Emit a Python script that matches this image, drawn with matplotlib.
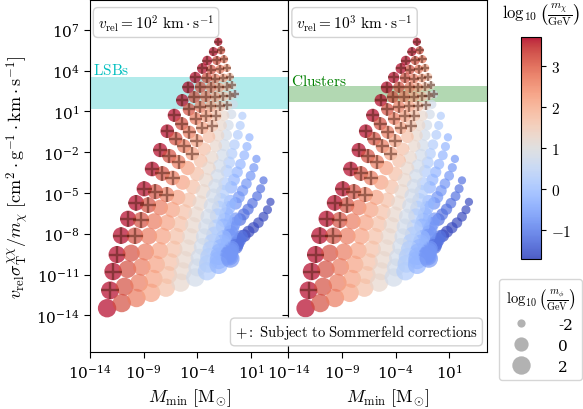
import numpy as np
import matplotlib.pyplot as plt
from matplotlib.lines import Line2D

plt.rcParams['mathtext.fontset'] = 'cm'
plt.rcParams['font.family'] = 'serif'
plt.rcParams['font.serif'] = ['DejaVu Serif']

# scan grid (log10 of masses in GeV)
log_mphi = [-2.0, -1.78, -1.56, -1.33, -1.11, -0.89, -0.67, -0.44, -0.22, 0.0,
            0.22, 0.44, 0.67, 0.89, 1.11, 1.33, 1.56, 1.78, 2.0]
log_mchi = [3.7, 3.21, 2.72, 2.23, 1.74, 1.25, 0.75, 0.26, -0.23, -0.72, -1.21, -1.7]

# log10 M_min [Msun], one row per mediator mass
log_Mmin = [
    [-2.04, -1.78, -1.51, -1.25, -0.98, -0.72, -0.45, 0.20, 0.86, 1.51, 2.17, 2.82],
    [-2.50, -2.19, -1.88, -1.57, -1.26, -0.95, -0.64, 0.00, 0.63, 1.27, 1.90, 2.54],
    [-3.07, -2.70, -2.32, -1.95, -1.57, -1.20, -0.82, -0.22, 0.38, 0.97, 1.57, 2.17],
    [-3.53, -3.13, -2.72, -2.32, -1.91, -1.51, -1.10, -0.54, 0.02, 0.58, 1.14, 1.70],
    [-4.19, -3.71, -3.22, -2.74, -2.26, -1.77, -1.29, -0.79, -0.28, 0.22, 0.73, 1.23],
    [-4.84, -4.28, -3.72, -3.16, -2.60, -2.04, -1.48, -1.03, -0.58, -0.13, 0.32, 0.77],
    [-5.40, -4.78, -4.15, -3.53, -2.91, -2.28, -1.66, -1.25, -0.84, -0.43, -0.02, 0.39],
    [-6.15, -5.45, -4.75, -4.05, -3.34, -2.64, -1.94, -1.43, -0.92, -0.40, 0.11],
    [-6.80, -6.02, -5.24, -4.47, -3.69, -2.91, -2.13, -1.62, -1.10, -0.59, -0.07],
    [-7.46, -6.60, -5.75, -4.89, -4.03, -3.18, -2.32, -1.81, -1.29, -0.78, -0.26],
    [-8.21, -7.26, -6.31, -5.36, -4.40, -3.45, -2.50, -1.97, -1.43, -0.90, -0.36],
    [-8.95, -7.91, -6.86, -5.82, -4.78, -3.73, -2.69, -2.13, -1.57, -1.01, -0.45],
    [-9.70, -8.58, -7.46, -6.34, -5.21, -4.09, -2.97, -2.25, -1.54, -0.82],
    [-10.45, -9.24, -8.02, -6.81, -5.59, -4.38, -3.16, -2.41, -1.67, -0.92],
    [-11.10, -9.81, -8.52, -7.23, -5.93, -4.64, -3.35, -2.57, -1.79, -1.01],
    [-11.48, -10.16, -8.83, -7.51, -6.18, -4.86, -3.53, -2.72, -1.91, -1.10],
    [-11.85, -10.51, -9.17, -7.83, -6.49, -5.15, -3.81, -2.91, -2.00, -1.10],
    [-12.13, -10.78, -9.42, -8.07, -6.71, -5.36, -4.00, -3.00, -2.01, -1.01],
    [-12.41, -11.04, -9.67, -8.30, -6.93, -5.56, -4.19, -3.10, -2.01, -0.92],
]

# log10 v_rel sigma_T / m_chi, same layout
log_sigv = [
    [6.12, 5.48, 4.83, 4.19, 3.54, 2.90, 2.25, 0.67, -0.91, -2.50, -4.08, -5.66],
    [5.39, 4.74, 4.10, 3.45, 2.80, 2.16, 1.51, -0.04, -1.59, -3.14, -4.69, -6.24],
    [4.73, 4.07, 3.41, 2.76, 2.10, 1.44, 0.78, -0.73, -2.23, -3.74, -5.24, -6.75],
    [4.15, 3.46, 2.76, 2.07, 1.37, 0.68, -0.02, -1.45, -2.89, -4.32, -5.76, -7.19],
    [3.49, 2.78, 2.08, 1.37, 0.66, -0.04, -0.75, -2.11, -3.47, -4.84, -6.20, -7.56],
    [2.76, 2.05, 1.34, 0.64, -0.07, -0.78, -1.49, -2.76, -4.03, -5.31, -6.58, -7.85],
    [1.81, 1.14, 0.47, -0.21, -0.88, -1.55, -2.22, -3.40, -4.59, -5.77, -6.96, -8.14],
    [0.71, 0.09, -0.53, -1.16, -1.78, -2.40, -3.02, -4.32, -5.62, -6.92, -8.22],
    [-0.46, -1.01, -1.56, -2.11, -2.65, -3.20, -3.75, -4.92, -6.10, -7.27, -8.44],
    [-1.85, -2.29, -2.73, -3.17, -3.61, -4.05, -4.49, -5.53, -6.57, -7.61, -8.65],
    [-3.24, -3.57, -3.90, -4.23, -4.56, -4.89, -5.22, -6.12, -7.01, -7.91, -8.80],
    [-4.70, -4.91, -5.12, -5.33, -5.53, -5.74, -5.95, -6.70, -7.45, -8.20, -8.95],
    [-5.73, -5.90, -6.07, -6.24, -6.41, -6.58, -6.75, -7.53, -8.31, -9.09],
    [-6.90, -7.00, -7.09, -7.19, -7.29, -7.38, -7.48, -8.07, -8.65, -9.24],
    [-8.14, -8.15, -8.17, -8.18, -8.19, -8.21, -8.22, -8.61, -9.00, -9.39],
    [-9.53, -9.43, -9.34, -9.24, -9.14, -9.05, -8.95, -9.14, -9.34, -9.53],
    [-10.78, -10.61, -10.44, -10.26, -10.09, -9.92, -9.75, -9.70, -9.66, -9.61],
    [-12.17, -11.89, -11.61, -11.32, -11.04, -10.76, -10.48, -10.21, -9.95, -9.68],
    [-13.48, -13.10, -12.73, -12.35, -11.97, -11.60, -11.22, -10.76, -10.29, -9.83],
]

# how many of the heaviest DM masses in each row carry a "+" (Sommerfeld)
n_sommerfeld = [7, 6, 6, 5, 5, 5, 4, 4, 4, 3, 3, 3, 2, 2, 2, 1, 1, 1, 0]

lsb_band = (15, 3500)
cluster_band = (46, 680)
v_rel_exp = [2, 3]

# flatten the table
xs, ys, cs, ms, som = [], [], [], [], []
for i, mphi in enumerate(log_mphi):
    for j in range(len(log_Mmin[i])):
        xs.append(10 ** log_Mmin[i][j])
        ys.append(10 ** log_sigv[i][j])
        cs.append(log_mchi[j])
        ms.append(mphi)
        som.append(j < n_sommerfeld[i])
xs, ys, cs, ms, som = map(np.array, (xs, ys, cs, ms, som))
sizes = 35 * (ms + 3)

fig, axes = plt.subplots(1, 2, figsize=(5.83, 4.10), dpi=100, sharey=True)
fig.subplots_adjust(left=0.1544, right=0.8353, top=0.998, bottom=0.139, wspace=0)

cmap = plt.get_cmap('coolwarm')
norm = plt.Normalize(-1.7, 3.7)

for ax, v in zip(axes, v_rel_exp):
    ax.scatter(xs, ys, c=cs, cmap=cmap, norm=norm, s=sizes, alpha=0.7, lw=0, zorder=3)
    ax.scatter(xs[som], ys[som], marker='+', c='#4a1a0c', alpha=0.5, s=sizes[som] * 0.95,
               linewidths=1.7, zorder=4)
    ax.set_xscale('log')
    ax.set_yscale('log')
    ax.set_xlim(1e-14, 10**4.5)
    ax.set_ylim(10**-16.7, 10**9.2)
    ax.set_xticks([1e-14, 1e-9, 1e-4, 1e1])
    ax.set_yticks([10.0**k for k in range(-14, 8, 3)])
    ax.minorticks_off()
    ax.tick_params(labelsize=11, length=4)
    ax.set_xlabel(r'$M_{\rm min}\ [{\rm M}_{\odot}]$', fontsize=13)
    ax.text(0.04, 0.965, r'$v_{\rm rel} = 10^%d\ {\rm km}\cdot{\rm s}^{-1}$' % v,
            transform=ax.transAxes, fontsize=11, va='top', ha='left', zorder=6,
            bbox=dict(boxstyle='round,pad=0.3', fc='white', ec='lightgrey'))

axes[0].set_ylabel(r'$v_{\rm rel}\sigma_{\rm T}^{\chi\chi}/m_\chi\ [{\rm cm}^2\cdot{\rm g}^{-1}\cdot{\rm km}\cdot{\rm s}^{-1}]$',
                   fontsize=13)

axes[0].axhspan(*lsb_band, color='c', alpha=0.3, lw=0, zorder=2)
axes[0].text(10**-13.75, 10**3.72, r'$\rm LSBs$', color='c', fontsize=11)
axes[1].axhspan(*cluster_band, color='g', alpha=0.3, lw=0, zorder=2)
axes[1].text(10**-13.8, 10**2.92, r'$\rm Clusters$', color='g', fontsize=11)

axes[1].text(0.955, 0.03, r'$+:\ \rm Subject\ to\ Sommerfeld\ corrections$',
             transform=axes[1].transAxes, fontsize=10.5, ha='right', va='bottom', zorder=10,
             bbox=dict(boxstyle='round,pad=0.3', fc='white', ec='lightgrey'))

cax = fig.add_axes([521 / 583, 1 - 260 / 410, 20 / 583, 222 / 410])
sm = plt.cm.ScalarMappable(norm=norm, cmap=cmap)
cb = fig.colorbar(sm, cax=cax, alpha=0.9)
cb.set_ticks([-1, 0, 1, 2, 3])
cb.set_ticklabels([r'$-1$', r'$0$', r'$1$', r'$2$', r'$3$'])
cax.tick_params(labelsize=11)
fig.text(541 / 583, 1 - 15 / 410, r'$\log_{10}\left(\frac{m_\chi}{\rm GeV}\right)$',
         ha='center', va='center', fontsize=12)

handles = [Line2D([], [], ls='', marker='o', color='grey', alpha=0.6,
                  markersize=np.sqrt(35 * (m + 3)), mec='none') for m in [-2, 0, 2]]
fig.legend(handles, ['-2', '0', '2'], loc='upper right', bbox_to_anchor=(0.999, 1 - 280 / 410),
           title=r'$\log_{10}\left(\frac{m_\phi}{\rm GeV}\right)$', fontsize=11,
           title_fontsize=10.5, labelspacing=0.45, borderpad=0.45, handlelength=1.6,
           handletextpad=1.6, borderaxespad=0)

fig.savefig('out.png')
